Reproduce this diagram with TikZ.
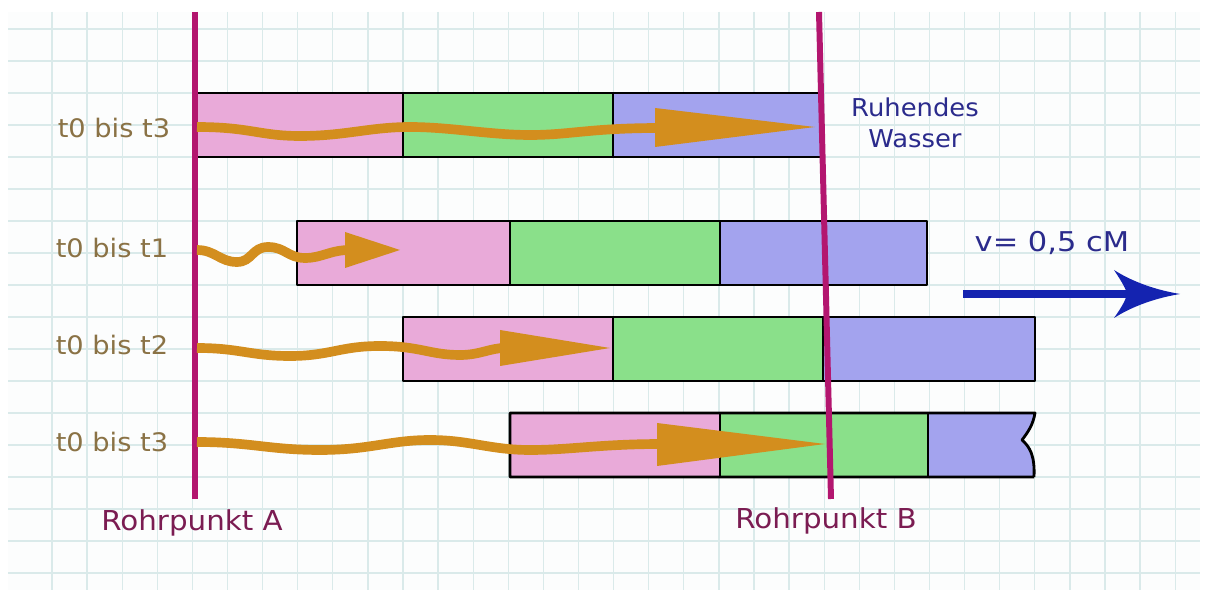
\documentclass[tikz,border=0pt]{standalone}
\usepackage{fontspec}
\setmainfont{DejaVu Sans}
\definecolor{paper}{HTML}{FCFDFD}
\definecolor{gridc}{HTML}{DAEAEA}
\definecolor{rohr}{HTML}{B3166F}
\definecolor{rohrtext}{HTML}{7B1C52}
\definecolor{tlab}{HTML}{8A7245}
\definecolor{flow}{HTML}{D38E1E}
\definecolor{pinkc}{HTML}{E9AAD9}
\definecolor{greenc}{HTML}{8AE08A}
\definecolor{bluec}{HTML}{A3A3EE}
\definecolor{wtext}{HTML}{2B2B8C}
\definecolor{warrow}{HTML}{1423B0}
\tikzset{
  gridline/.style={draw=gridc, line width=0.7pt},
  rohrline/.style={draw=rohr, line width=3.4pt},
  seg/.style={draw=black, line width=1.6pt, line join=round},
  flowline/.style={draw=flow, line width=5.5pt},
  flowhead/.style={fill=flow},
  tlabel/.style={text=tlab, font=\fontsize{14.5}{17}\selectfont, xscale=1.07, inner sep=0pt},
  rlabel/.style={text=rohrtext, font=\fontsize{15.6}{18}\selectfont, xscale=1.07, inner sep=0pt},
  wlabel/.style={text=wtext, font=\fontsize{14}{18}\selectfont, xscale=1.05, inner sep=0pt, align=center},
  vlabel/.style={text=wtext, font=\fontsize{15.5}{18}\selectfont, xscale=1.12, inner sep=0pt},
}
\begin{document}
\begin{tikzpicture}[x=0.02cm,y=-0.02cm]
\useasboundingbox (0,0) rectangle (1208,597);
\fill[white] (0,0) rectangle (1208,597);
\fill[paper] (8,12) rectangle (1200,590);
% grid
\foreach \k in {0,...,32} \draw[gridline] ({52+35.1*\k},12) -- ({52+35.1*\k},590);
\foreach \k in {0,...,17} \draw[gridline] (8,{29+32*\k}) -- (1200,{29+32*\k});

% row 1
\fill[pinkc] (197,93) rectangle (403,157);
\fill[greenc] (403,93) rectangle (613,157);
\fill[bluec] (613,93) rectangle (820,157);
\draw[seg] (197,93) -- (820,93) (197,157) -- (822,157) (403,93) -- (403,157) (613,93) -- (613,157);
% row 2
\fill[pinkc] (297,221) rectangle (510,285);
\fill[greenc] (510,221) rectangle (720,285);
\fill[bluec] (720,221) rectangle (927,285);
\draw[seg] (297,221) rectangle (927,285) (510,221) -- (510,285) (720,221) -- (720,285);
% row 3
\fill[pinkc] (403,317) rectangle (613,381);
\fill[greenc] (613,317) rectangle (823,381);
\fill[bluec] (823,317) rectangle (1035,381);
\draw[seg] (403,317) rectangle (1035,381) (613,317) -- (613,381) (823,317) -- (823,381);
% row 4
\fill[pinkc] (510,413) rectangle (720,477);
\fill[greenc] (720,413) rectangle (928,477);
\fill[bluec] (928,413) -- (1035,413) .. controls (1033,425) and (1028,432) .. (1022,440) .. controls (1030,447) and (1035,456) .. (1034,477) -- (928,477) -- cycle;
\draw[seg] (1034,477) -- (510,477) -- (510,413) -- (1035,413) .. controls (1033,425) and (1028,432) .. (1022,440) .. controls (1030,447) and (1035,456) .. (1034,477);
\draw[seg] (720,413) -- (720,477) (928,413) -- (928,477);

% Rohr lines
\coordinate (A1) at (195,12);
\coordinate (A2) at (195,499);
\coordinate (B1) at (819,12);
\coordinate (B2) at (831,499);
\draw[rohrline] (A1) -- (A2);
\draw[rohrline] (B1) -- (B2);

% flow arrows
\coordinate (s1) at (197,127);
\coordinate (e1) at (815,127);
\draw[flowline] (s1) .. controls (250,127) and (260,136) .. (300,136) .. controls (345,136) and (370,127) .. (410,127) .. controls (450,127) and (490,135) .. (530,135) .. controls (570,135) and (590,128) .. (660,128);
\fill[flowhead] (655,108) -- (e1) -- (655,147) -- cycle;

\coordinate (s2) at (197,250);
\coordinate (e2) at (400,250);
\draw[flowline] (s2) .. controls (215,250) and (220,262) .. (237,262) .. controls (252,262) and (252,247) .. (268,247) .. controls (285,247) and (288,258) .. (305,258) .. controls (322,258) and (330,250) .. (350,250);
\fill[flowhead] (345,232) -- (e2) -- (345,268) -- cycle;

\coordinate (s3) at (197,348);
\coordinate (e3) at (610,348);
\draw[flowline] (s3) .. controls (240,348) and (250,356) .. (290,356) .. controls (330,356) and (340,346) .. (380,346) .. controls (420,346) and (430,355) .. (460,355) .. controls (480,355) and (490,348) .. (505,348);
\fill[flowhead] (500,330) -- (e3) -- (500,366) -- cycle;

\coordinate (s4) at (197,442);
\coordinate (e4) at (825,444);
\draw[flowline] (s4) .. controls (250,442) and (270,450) .. (320,450) .. controls (370,450) and (390,440) .. (430,440) .. controls (470,440) and (490,450) .. (530,450) .. controls (570,450) and (600,444) .. (662,444);
\fill[flowhead] (657,423) -- (e4) -- (657,466) -- cycle;

% velocity arrow
\coordinate (vs) at (963,294);
\coordinate (ve) at (1180,294);
\draw[draw=warrow, line width=5pt] (vs) -- (1132,294);
\fill[warrow] (ve) .. controls (1150,289) and (1128,279) .. (1114,270) .. controls (1122,282) and (1126,289) .. (1127,294) .. controls (1126,299) and (1122,307) .. (1114,318) .. controls (1128,309) and (1150,299) .. (ve) -- cycle;

% labels
\node[tlabel] (l1) at (114,128) {t0 bis t3};
\node[tlabel] (l2) at (112,248) {t0 bis t1};
\node[tlabel] (l3) at (112,345) {t0 bis t2};
\node[tlabel] (l4) at (112,442) {t0 bis t3};
\node[wlabel] (rw) at (915,123) {Ruhendes\\ Wasser};
\node[vlabel] (vl) at (1052,243) {v= 0,5 cM};
\node[rlabel] (ra) at (192,523) {Rohrpunkt A};
\node[rlabel] (rb) at (826,521) {Rohrpunkt B};
\end{tikzpicture}
\end{document}
